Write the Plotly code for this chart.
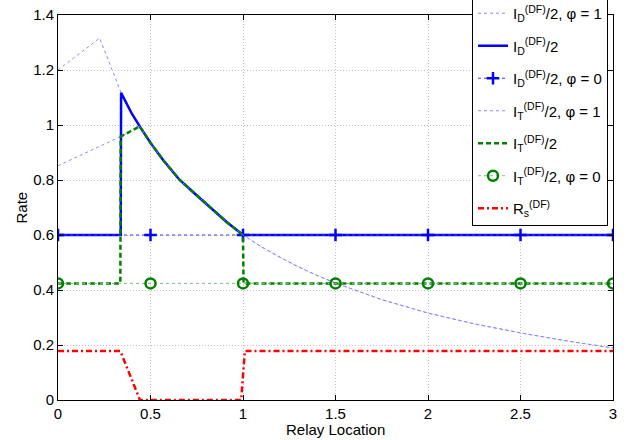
import plotly.graph_objects as go

# ---- data ----
decay_x = [0.341, 0.4, 0.442, 0.5, 0.568, 0.658, 0.74, 0.82, 0.91, 1.0,
           1.1, 1.2, 1.3, 1.4, 1.5, 1.75, 2.0, 2.25, 2.5, 2.75, 3.0]
decay_y = [1.117, 1.04, 0.995, 0.935, 0.873, 0.80, 0.75, 0.702, 0.648, 0.60,
           0.557, 0.519, 0.484, 0.453, 0.425, 0.365, 0.316, 0.277, 0.244, 0.215, 0.189]
N_TO_ONE = 10  # number of decay points up to x = 1

# I_D^(DF)/2, phi = 1
id_phi1_x = [0.0, 0.225] + decay_x
id_phi1_y = [1.20, 1.316] + decay_y

# I_D^(DF)/2
id_x = [0.0, 0.339] + decay_x[:N_TO_ONE] + [3.0]
id_y = [0.60, 0.60] + decay_y[:N_TO_ONE] + [0.60]

# I_D^(DF)/2, phi = 0
id_phi0_x = [0.0, 0.5, 1.0, 1.5, 2.0, 2.5, 3.0]
id_phi0_y = [0.60, 0.60, 0.60, 0.60, 0.60, 0.60, 0.60]

# I_T^(DF)/2, phi = 1
it_phi1_x = [0.0, 0.339] + decay_x[2:]
it_phi1_y = [0.852, 0.958] + decay_y[2:]

# I_T^(DF)/2
it_x = [0.0, 0.337, 0.339] + decay_x[2:N_TO_ONE] + [1.003, 3.0]
it_y = [0.424, 0.424, 0.958] + decay_y[2:N_TO_ONE] + [0.424, 0.424]

# I_T^(DF)/2, phi = 0
it_phi0_x = [0.0, 0.5, 1.0, 1.5, 2.0, 2.5, 3.0]
it_phi0_y = [0.424, 0.424, 0.424, 0.424, 0.424, 0.424, 0.424]

# R_s^(DF)
rs_x = [0.0, 0.337, 0.443, 0.99, 1.01, 3.0]
rs_y = [0.178, 0.178, 0.0, 0.0, 0.178, 0.178]

x_ticks = [0, 0.5, 1, 1.5, 2, 2.5, 3]
x_ticklabels = ["0", "0.5", "1", "1.5", "2", "2.5", "3"]
y_ticks = [0, 0.2, 0.4, 0.6, 0.8, 1.0, 1.2, 1.4]
y_ticklabels = ["0", "0.2", "0.4", "0.6", "0.8", "1", "1.2", "1.4"]

FONT = "Liberation Sans, Arial, Helvetica, sans-serif"
light_blue = "#8a8aff"

fig = go.Figure()
fig.add_trace(go.Scatter(x=id_phi1_x, y=id_phi1_y, mode="lines", legendgroup="g1",
                         line=dict(color=light_blue, width=1, dash="dot"),
                         name="I<sub>D</sub><sup>(DF)</sup>/2, φ = 1"))
fig.add_trace(go.Scatter(x=id_x, y=id_y, mode="lines", legendgroup="g2",
                         line=dict(color="#0000ff", width=2.5),
                         name="I<sub>D</sub><sup>(DF)</sup>/2"))
fig.add_trace(go.Scatter(x=id_phi0_x, y=id_phi0_y, mode="lines+markers", legendgroup="g3",
                         line=dict(color="#3a3aff", width=1, dash="dot"),
                         marker=dict(symbol="cross-thin", size=9, color="#0000ff",
                                     line=dict(color="#0000ff", width=2.5)),
                         name="I<sub>D</sub><sup>(DF)</sup>/2, φ = 0"))
fig.add_trace(go.Scatter(x=it_phi1_x, y=it_phi1_y, mode="lines", legendgroup="g4",
                         line=dict(color=light_blue, width=1, dash="dot"),
                         name="I<sub>T</sub><sup>(DF)</sup>/2, φ = 1"))
fig.add_trace(go.Scatter(x=it_x, y=it_y, mode="lines", legendgroup="g5",
                         line=dict(color="#008000", width=2.5, dash="5px,3px"),
                         name="I<sub>T</sub><sup>(DF)</sup>/2"))
fig.add_trace(go.Scatter(x=it_phi0_x, y=it_phi0_y, mode="lines+markers", legendgroup="g6",
                         line=dict(color="#7fbf7f", width=1, dash="dot"),
                         marker=dict(symbol="circle-open", size=10, color="#008000",
                                     line=dict(color="#008000", width=2.5)),
                         name="I<sub>T</sub><sup>(DF)</sup>/2, φ = 0"))
fig.add_trace(go.Scatter(x=rs_x, y=rs_y, mode="lines", legendgroup="g7",
                         line=dict(color="#ff0000", width=2.5, dash="6px,3px,2px,3px"),
                         name="R<sub>s</sub><sup>(DF)</sup>"))

axis_common = dict(showline=True, linecolor="black", linewidth=1, mirror="ticks",
                   ticks="inside", ticklen=5, tickcolor="black",
                   showgrid=True, gridcolor="#c4c4c4", gridwidth=1, griddash="1px,2px",
                   zeroline=False, tickfont=dict(family=FONT, size=15, color="black"))

fig.update_xaxes(range=[0, 3], tickvals=x_ticks, ticktext=x_ticklabels, **axis_common)
fig.update_yaxes(range=[0, 1.4], tickvals=y_ticks, ticktext=y_ticklabels, **axis_common)

fig.add_annotation(text="Relay Location", xref="paper", yref="paper",
                   x=0.5, y=-0.076, xanchor="center", yanchor="middle",
                   showarrow=False, font=dict(family=FONT, size=15, color="black"))
fig.add_annotation(text="Rate", xref="paper", yref="paper", textangle=-90,
                   x=-0.0649, y=0.5, xanchor="center", yanchor="middle",
                   showarrow=False, font=dict(family=FONT, size=15, color="black"))

fig.update_layout(
    width=638, height=440,
    margin=dict(l=58, r=25, t=15, b=40, autoexpand=False),
    paper_bgcolor="white", plot_bgcolor="white",
    font=dict(family=FONT, size=15, color="black"),
    showlegend=True,
    legend=dict(x=0.991, y=0.452, xanchor="right", yanchor="bottom",
                bgcolor="white", bordercolor="black", borderwidth=1,
                font=dict(family=FONT, size=15, color="black"),
                itemwidth=30, tracegroupgap=10, traceorder="grouped"),
)

fig.write_html("out.html", config={"displayModeBar": False},
               post_script="document.body.style.margin='0';document.body.style.padding='0';")
